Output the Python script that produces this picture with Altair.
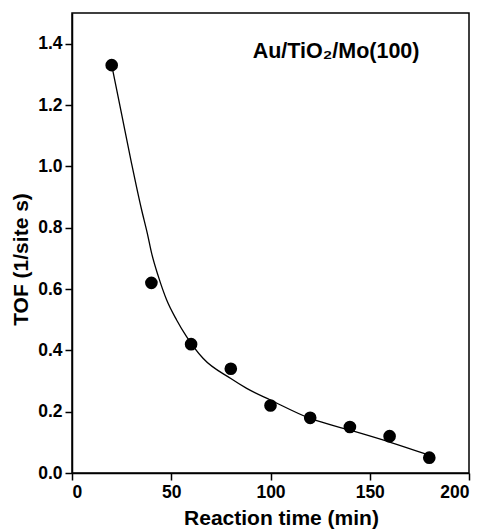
import altair as alt
import pandas as pd

# measured points
time_min = [20, 40, 60, 80, 100, 120, 140, 160, 180]
tof = [1.33, 0.62, 0.42, 0.34, 0.22, 0.18, 0.15, 0.12, 0.05]

# fitted curve
curve_x = [20, 25, 30, 35, 38, 40.1, 43.5, 47.7, 52.7, 57.8, 66, 80, 88, 100,
           120, 140, 160, 180]
curve_y = [1.33, 1.17, 1.01, 0.86, 0.78, 0.717, 0.641, 0.564, 0.499, 0.444,
           0.374, 0.308, 0.276, 0.238, 0.178, 0.14, 0.101, 0.058]

label_text = ["Au/TiO\u2082/Mo(100)"]
label_x = [91]
label_y = [1.354]

x_ticks = [0, 50, 100, 150, 200]
y_ticks = [0.0, 0.2, 0.4, 0.6, 0.8, 1.0, 1.2, 1.4]

pts = pd.DataFrame({"t": time_min, "tof": tof})
crv = pd.DataFrame({"t": curve_x, "tof": curve_y})
lab = pd.DataFrame({"text": label_text, "t": label_x, "tof": label_y})

FONT = "Liberation Sans"

xs = alt.X("t:Q", scale=alt.Scale(domain=[0, 200], nice=False),
           axis=alt.Axis(values=x_ticks, title="Reaction time (min)", format="d",
                         titleFontSize=21, titleBaseline="alphabetic",
                         titleX=209, titleY=51))
ys = alt.Y("tof:Q", scale=alt.Scale(domain=[0, 1.5], nice=False),
           axis=alt.Axis(values=y_ticks, title="TOF (1/site s)", format=".1f",
                         titleFontSize=21, titleBaseline="alphabetic",
                         titleX=-45, titleY=246))

line = alt.Chart(crv).mark_line(color="black", strokeWidth=1.3, interpolate="monotone").encode(x=xs, y=ys)
dots = alt.Chart(pts).mark_point(filled=True, color="black", size=160, opacity=1, shape="circle").encode(x=xs, y=ys)
txt = alt.Chart(lab).mark_text(align="left", baseline="alphabetic", font=FONT,
                               fontWeight="bold", fontSize=21.5, color="black").encode(
    x="t:Q", y="tof:Q", text="text:N")

chart = (line + dots + txt).properties(
    width=397, height=460,
    autosize=alt.AutoSizeParams(type="none"),
    padding={"left": 64, "top": 5, "right": 5, "bottom": 56},
).configure_view(
    stroke="black", strokeWidth=1.5
).configure_axis(
    grid=False, domainColor="black", domainWidth=1.5, tickColor="black",
    tickWidth=1.5, tickSize=7, labelFont=FONT, labelFontSize=17.5,
    labelFontWeight="bold", labelColor="black", labelPadding=3,
    titleFont=FONT, titleFontWeight="bold", titleColor="black"
)

chart.save("out.html", embed_options={"renderer": "svg", "actions": False})
